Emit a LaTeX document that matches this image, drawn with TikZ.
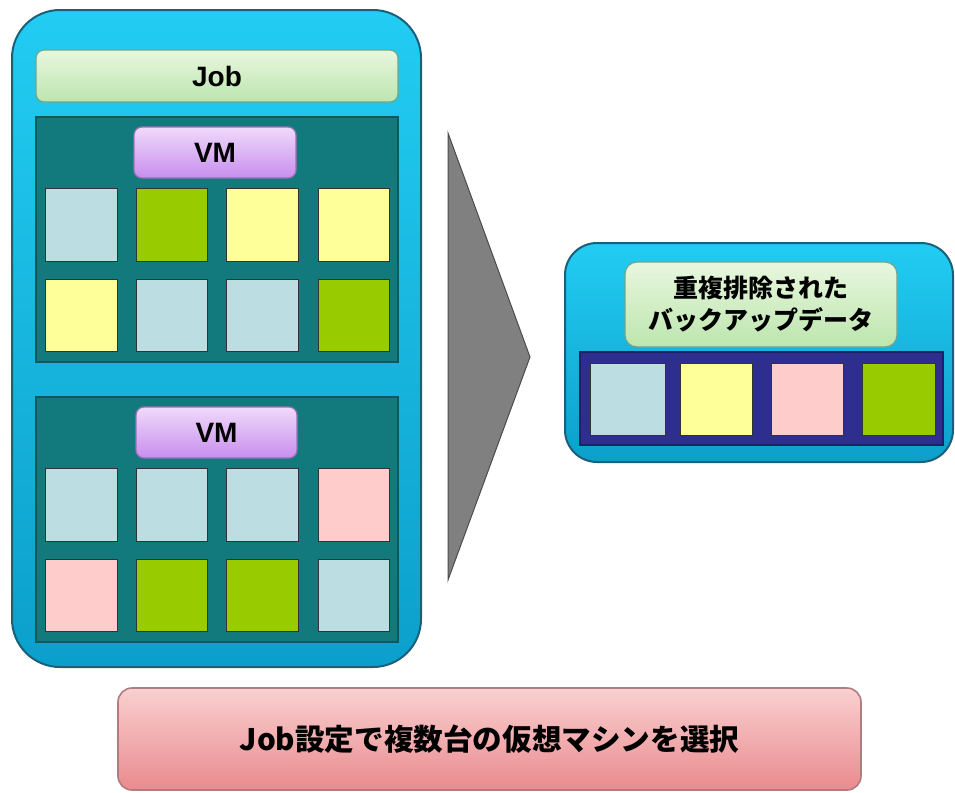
\documentclass[tikz,border=0pt]{standalone}
\usepackage{fontspec}
\setmainfont{Liberation Sans}
\newfontfamily\jp{Noto Sans CJK JP}
\usetikzlibrary{fit}
\definecolor{cyT}{HTML}{22CCF2}
\definecolor{cyB}{HTML}{0C9FCC}
\definecolor{cyD}{HTML}{1B5F7A}
\definecolor{gnT}{HTML}{E8F7DE}
\definecolor{gnB}{HTML}{BDE5AE}
\definecolor{gnD}{HTML}{6FA58C}
\definecolor{teal}{HTML}{127A7C}
\definecolor{tealD}{HTML}{0D5A5C}
\definecolor{vmT}{HTML}{F0DAFA}
\definecolor{vmB}{HTML}{C88EEE}
\definecolor{vmD}{HTML}{9A70B8}
\definecolor{lb}{HTML}{BCDDE2}
\definecolor{gr}{HTML}{99CC00}
\definecolor{ye}{HTML}{FFFF99}
\definecolor{pk}{HTML}{FFCCCC}
\definecolor{navy}{HTML}{2E2E8E}
\definecolor{pkT}{HTML}{F9D0D0}
\definecolor{pkB}{HTML}{EA8A8E}
\definecolor{pkD}{HTML}{B07C80}
\tikzset{
  fitbox/.style={inner sep=0pt, outer sep=0pt},
  outerbox/.style={fitbox, draw=cyD, line width=1pt, top color=cyT, bottom color=cyB, rounded corners=24pt},
  jobbar/.style={fitbox, draw=gnD, line width=0.6pt, top color=gnT, bottom color=gnB, rounded corners=4pt},
  panel/.style={fitbox, draw=tealD, line width=0.6pt, fill=teal},
  vmbox/.style={fitbox, draw=vmD, line width=0.6pt, top color=vmT, bottom color=vmB, rounded corners=4pt},
  blk/.style={fitbox, draw=black!80, line width=0.5pt, fill=#1},
  strip/.style={fitbox, draw=navy!70!black, line width=0.6pt, fill=navy},
  arrowtri/.style={draw=black!70, line width=0.5pt, fill=black!50},
  bottombox/.style={fitbox, draw=pkD, line width=0.8pt, top color=pkT, bottom color=pkB, rounded corners=7pt},
  dedupbox/.style={fitbox, draw=gnD, line width=0.6pt, top color=gnT, bottom color=gnB, rounded corners=6pt},
  lbl/.style={font=\fontsize{14}{16}\selectfont\bfseries},
  jplbl/.style={align=center, font=\jp\bfseries\fontsize{#1}{16}\selectfont},
}
\begin{document}
\begin{tikzpicture}[x=0.5pt, y=-0.5pt]
\useasboundingbox (0,0) rectangle (955,793);
% left outer box
\node[outerbox, fit={(12,10) (421,667)}] (outer) {};
\node[jobbar, fit={(36,50) (398,102)}] (job) {};
\node[lbl] (jobt) at (job.center) {Job};
% panel 1
\node[panel, fit={(36,117) (398,362)}] (p1) {};
\node[vmbox, fit={(134,127) (296,178)}] (vm1) {};
\node[lbl] (vm1t) at (vm1.center) {VM};
\node[blk=lb, fit={(45,188) (117,261)}] (a1) {};
\node[blk=gr, fit={(136,188) (207,261)}] (a2) {};
\node[blk=ye, fit={(226,188) (298,261)}] (a3) {};
\node[blk=ye, fit={(318,188) (389,261)}] (a4) {};
\node[blk=ye, fit={(45,279) (117,351)}] (a5) {};
\node[blk=lb, fit={(136,279) (207,351)}] (a6) {};
\node[blk=lb, fit={(226,279) (298,351)}] (a7) {};
\node[blk=gr, fit={(318,279) (389,351)}] (a8) {};
% panel 2
\node[panel, fit={(36,397) (398,642)}] (p2) {};
\node[vmbox, fit={(136,407) (297,458)}] (vm2) {};
\node[lbl] (vm2t) at (vm2.center) {VM};
\node[blk=lb, fit={(45,468) (117,541)}] (b1) {};
\node[blk=lb, fit={(136,468) (207,541)}] (b2) {};
\node[blk=lb, fit={(226,468) (298,541)}] (b3) {};
\node[blk=pk, fit={(318,468) (389,541)}] (b4) {};
\node[blk=pk, fit={(45,559) (117,631)}] (b5) {};
\node[blk=gr, fit={(136,559) (207,631)}] (b6) {};
\node[blk=gr, fit={(226,559) (298,631)}] (b7) {};
\node[blk=lb, fit={(318,559) (389,631)}] (b8) {};
% arrow
\draw[arrowtri] (448,133) -- (530,357) -- (448,580) -- cycle;
% right box
\node[outerbox, rounded corners=16pt, fit={(565,243) (953,462)}] (right) {};
\node[dedupbox, fit={(625,262) (897,347)}] (dedup) {};
\node[jplbl=12.5] (dedupt) at (dedup.center) {重複排除された\\バックアップデータ};
\node[strip, fit={(580,352) (943,445)}] (strip) {};
\node[blk=lb, fit={(590,363) (665,435)}] (c1) {};
\node[blk=ye, fit={(680,363) (752,435)}] (c2) {};
\node[blk=pk, fit={(771,363) (843,435)}] (c3) {};
\node[blk=gr, fit={(862,363) (935,435)}] (c4) {};
% bottom box
\node[bottombox, fit={(118,688) (861,790)}] (bottom) {};
\node[jplbl=14.8] (bottomt) at (bottom.center) {Job設定で複数台の仮想マシンを選択};
\end{tikzpicture}
\end{document}
